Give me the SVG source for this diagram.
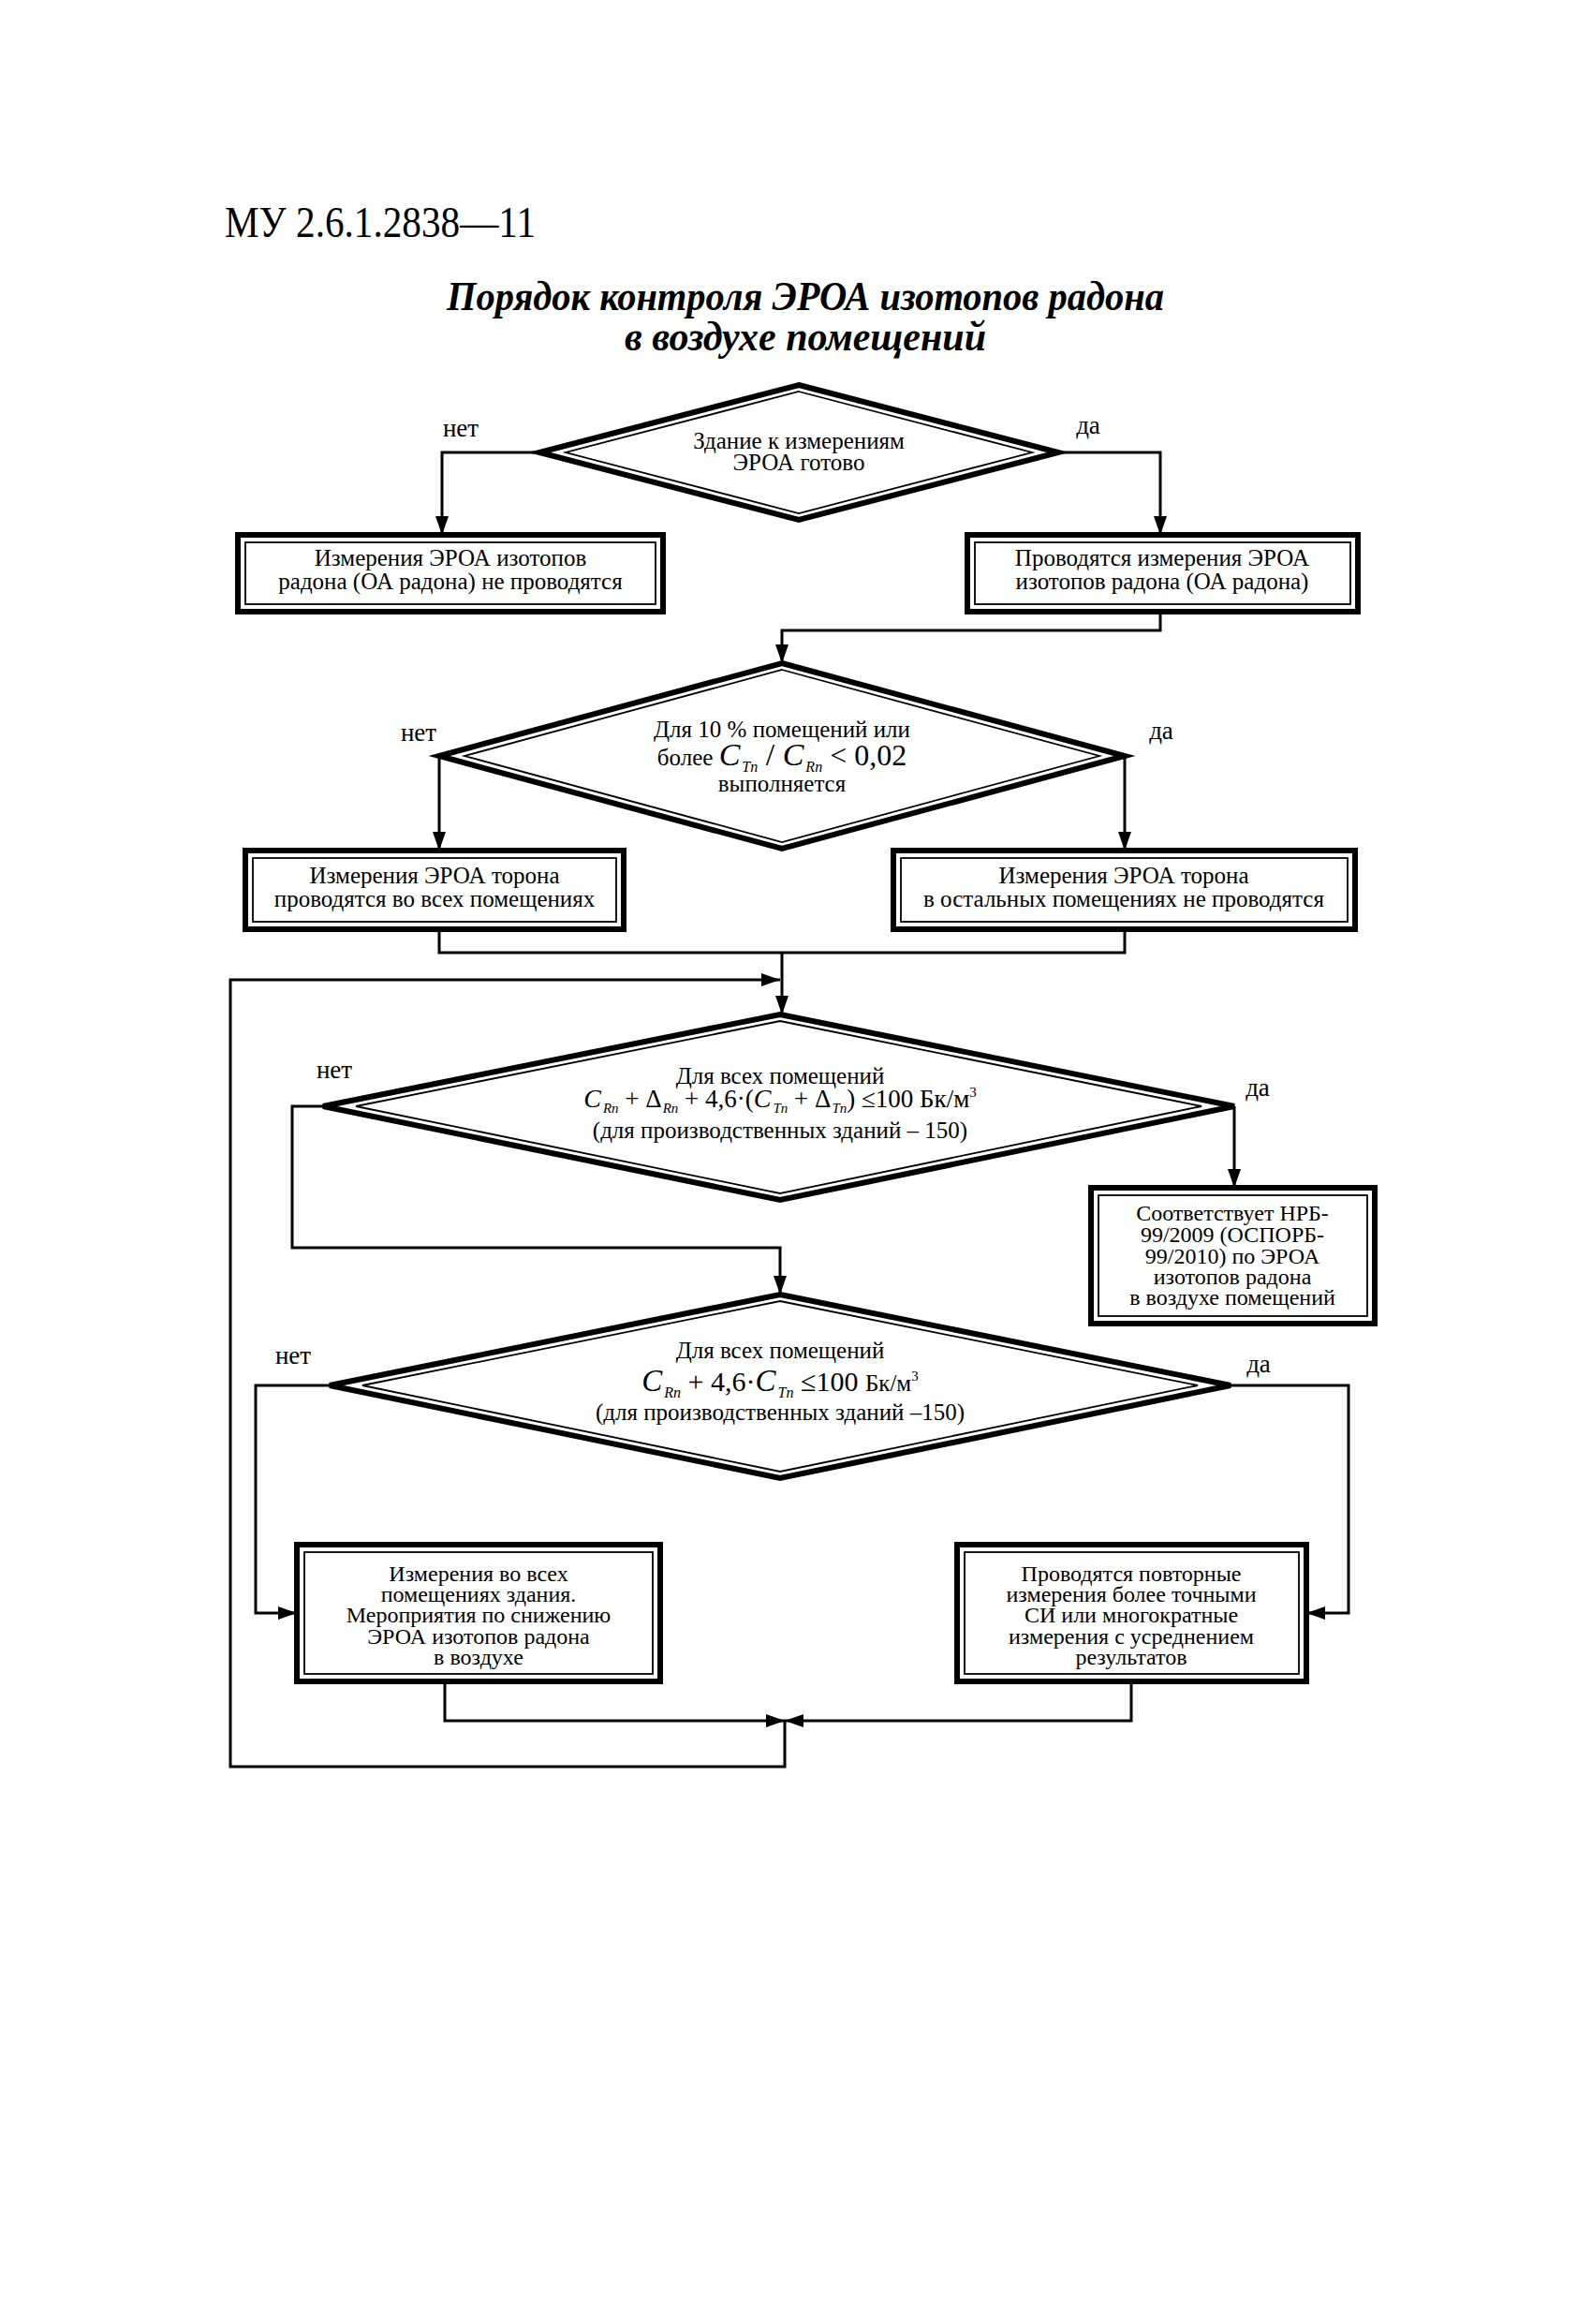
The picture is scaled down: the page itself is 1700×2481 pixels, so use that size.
<svg xmlns="http://www.w3.org/2000/svg" width="1700" height="2481" viewBox="0 0 1700 2481">
<style>
.conn{fill:none;stroke:#000;stroke-width:3}
.outer{fill:#fff;stroke:#000;stroke-width:6;stroke-linejoin:miter}
.inner{fill:none;stroke:#000;stroke-width:1.8}
.t{font-family:"Liberation Serif","Times New Roman",serif;font-size:25px;text-anchor:middle;fill:#000}
.s{font-size:24px}
.lbl{font-family:"Liberation Serif","Times New Roman",serif;font-size:27px;text-anchor:middle;fill:#000}
.i{font-style:italic}
</style>
<defs>
<marker id="ah" viewBox="0 0 20 14" refX="20" refY="7" markerWidth="20" markerHeight="14" markerUnits="userSpaceOnUse" orient="auto">
<path d="M0,0 L20,7 L0,14 Z" fill="#000"/>
</marker>
</defs>
<rect width="1700" height="2481" fill="#fff"/>

<g id="header">
<text x="240" y="253" font-family="Liberation Serif,Times New Roman,serif" font-size="46" textLength="332" lengthAdjust="spacingAndGlyphs">МУ 2.6.1.2838—11</text>
<text x="860" y="331" font-family="Liberation Serif,Times New Roman,serif" font-size="44" font-weight="bold" font-style="italic" text-anchor="middle" textLength="766" lengthAdjust="spacingAndGlyphs">Порядок контроля ЭРОА изотопов радона</text>
<text x="860" y="374" font-family="Liberation Serif,Times New Roman,serif" font-size="44" font-weight="bold" font-style="italic" text-anchor="middle" textLength="386" lengthAdjust="spacingAndGlyphs">в воздухе помещений</text>
</g>

<g id="connectors">
<path class="conn" d="M576,483 H472 V571" marker-end="url(#ah)"/>
<path class="conn" d="M1130,483 H1239 V571" marker-end="url(#ah)"/>
<path class="conn" d="M1239,653 V673 H835 V708" marker-end="url(#ah)"/>
<path class="conn" d="M469,807 V908" marker-end="url(#ah)"/>
<path class="conn" d="M1201,807 V908" marker-end="url(#ah)"/>
<path class="conn" d="M469,992 V1017 H1201 V992"/>
<path class="conn" d="M835,1017 V1083" marker-end="url(#ah)"/>
<path class="conn" d="M838,1837 V1886 H246 V1046 H833" marker-end="url(#ah)"/>
<path class="conn" d="M345,1181 H312 V1332 H833 V1382" marker-end="url(#ah)"/>
<path class="conn" d="M1318,1181 V1268" marker-end="url(#ah)"/>
<path class="conn" d="M352,1479 H273 V1722 H317" marker-end="url(#ah)"/>
<path class="conn" d="M1314,1479 H1440 V1722 H1395" marker-end="url(#ah)"/>
<path class="conn" d="M475,1795 V1837 H838" marker-end="url(#ah)"/>
<path class="conn" d="M1208,1795 V1837 H838" marker-end="url(#ah)"/>
</g>

<g id="labels">
<text class="lbl" x="492" y="466">нет</text>
<text class="lbl" x="1162" y="463">да</text>
<text class="lbl" x="447" y="791">нет</text>
<text class="lbl" x="1240" y="789">да</text>
<text class="lbl" x="357" y="1151">нет</text>
<text class="lbl" x="1343" y="1170">да</text>
<text class="lbl" x="313" y="1456">нет</text>
<text class="lbl" x="1344" y="1465">да</text>
</g>

<g id="d1">
<polygon class="outer" points="853,411 1130,483 853,555 576,483"/>
<polygon class="inner" points="853,418 1102,483 853,548 604,483"/>
<text class="t" x="853" y="479">Здание к измерениям</text>
<text class="t" x="853" y="502">ЭРОА готово</text>
</g>

<g id="box1">
<rect class="outer" x="254" y="571" width="454" height="82"/>
<rect class="inner" x="262" y="579" width="438" height="66"/>
<text class="t" x="481" y="604">Измерения ЭРОА изотопов</text>
<text class="t" x="481" y="629">радона (ОА радона) не проводятся</text>
</g>

<g id="box2">
<rect class="outer" x="1033" y="571" width="417" height="82"/>
<rect class="inner" x="1041" y="579" width="401" height="66"/>
<text class="t" x="1241" y="604">Проводятся измерения ЭРОА</text>
<text class="t" x="1241" y="629">изотопов радона (ОА радона)</text>
</g>

<g id="d2">
<polygon class="outer" points="835,708 1201,807 835,906 469,807"/>
<polygon class="inner" points="835,715 1174,807 835,899 496,807"/>
<text class="t" x="835" y="787">Для 10 % помещений или</text>
<text class="t" x="835" y="817">более <tspan class="i" font-size="34">C</tspan><tspan class="i" font-size="16" dx="2" dy="7">Tn</tspan><tspan font-size="34" dy="-7"> / </tspan><tspan class="i" font-size="34">C</tspan><tspan class="i" font-size="16" dx="2" dy="7">Rn</tspan><tspan font-size="32" dy="-7"> &lt; 0,02</tspan></text>
<text class="t" x="835" y="845">выполняется</text>
</g>

<g id="box3">
<rect class="outer" x="262" y="908" width="404" height="84"/>
<rect class="inner" x="270" y="916" width="388" height="68"/>
<text class="t" x="464" y="943">Измерения ЭРОА торона</text>
<text class="t" x="464" y="968">проводятся во всех помещениях</text>
</g>

<g id="box4">
<rect class="outer" x="954" y="908" width="493" height="84"/>
<rect class="inner" x="962" y="916" width="477" height="68"/>
<text class="t" x="1200" y="943">Измерения ЭРОА торона</text>
<text class="t" x="1200" y="968">в остальных помещениях не проводятся</text>
</g>

<g id="d3">
<polygon class="outer" points="833,1083 1318,1181 833,1281 345,1181"/>
<polygon class="inner" points="833,1090 1283,1181 833,1274 380,1181"/>
<text class="t" x="833" y="1157">Для всех помещений</text>
<text class="t" x="833" y="1182"><tspan class="i" font-size="28">C</tspan><tspan class="i" font-size="15" dx="2" dy="6">Rn</tspan><tspan font-size="27" dy="-6"> + Δ</tspan><tspan class="i" font-size="15" dx="1" dy="6">Rn</tspan><tspan font-size="27" dy="-6"> + 4,6·(</tspan><tspan class="i" font-size="28">C</tspan><tspan class="i" font-size="15" dx="2" dy="6">Tn</tspan><tspan font-size="27" dy="-6"> + Δ</tspan><tspan class="i" font-size="15" dx="1" dy="6">Tn</tspan><tspan font-size="27" dy="-6">) ≤100 Бк/м</tspan><tspan font-size="15" dy="-11">3</tspan></text>
<text class="t" x="833" y="1215">(для производственных зданий – 150)</text>
</g>

<g id="box5">
<rect class="outer" x="1165" y="1268" width="303" height="145"/>
<rect class="inner" x="1173" y="1276" width="287" height="129"/>
<text class="t s" x="1316" y="1303">Соответствует НРБ-</text>
<text class="t s" x="1316" y="1326">99/2009 (ОСПОРБ-</text>
<text class="t s" x="1316" y="1349">99/2010) по ЭРОА</text>
<text class="t s" x="1316" y="1371">изотопов радона</text>
<text class="t s" x="1316" y="1393">в воздухе помещений</text>
</g>

<g id="d4">
<polygon class="outer" points="833,1382 1314,1479 833,1578 352,1479"/>
<polygon class="inner" points="833,1389 1279,1479 833,1571 387,1479"/>
<text class="t" x="833" y="1450">Для всех помещений</text>
<text class="t" x="833" y="1485"><tspan class="i" font-size="33">C</tspan><tspan class="i" font-size="16" dx="2" dy="7">Rn</tspan><tspan font-size="30" dy="-7"> + 4,6·</tspan><tspan class="i" font-size="33">C</tspan><tspan class="i" font-size="16" dx="2" dy="7">Tn</tspan><tspan font-size="30" dy="-7"> ≤100 </tspan><tspan font-size="25">Бк/м</tspan><tspan font-size="15" dy="-11">3</tspan></text>
<text class="t" x="833" y="1516">(для производственных зданий –150)</text>
</g>

<g id="box6">
<rect class="outer" x="317" y="1649" width="388" height="146"/>
<rect class="inner" x="325" y="1657" width="372" height="130"/>
<text class="t s" x="511" y="1688">Измерения во всех</text>
<text class="t s" x="511" y="1710">помещениях здания.</text>
<text class="t s" x="511" y="1732">Мероприятия по снижению</text>
<text class="t s" x="511" y="1755">ЭРОА изотопов радона</text>
<text class="t s" x="511" y="1777">в воздухе</text>
</g>

<g id="box7">
<rect class="outer" x="1022" y="1649" width="373" height="146"/>
<rect class="inner" x="1030" y="1657" width="357" height="130"/>
<text class="t s" x="1208" y="1688">Проводятся повторные</text>
<text class="t s" x="1208" y="1710">измерения более точными</text>
<text class="t s" x="1208" y="1732">СИ или многократные</text>
<text class="t s" x="1208" y="1755">измерения с усреднением</text>
<text class="t s" x="1208" y="1777">результатов</text>
</g>
</svg>
